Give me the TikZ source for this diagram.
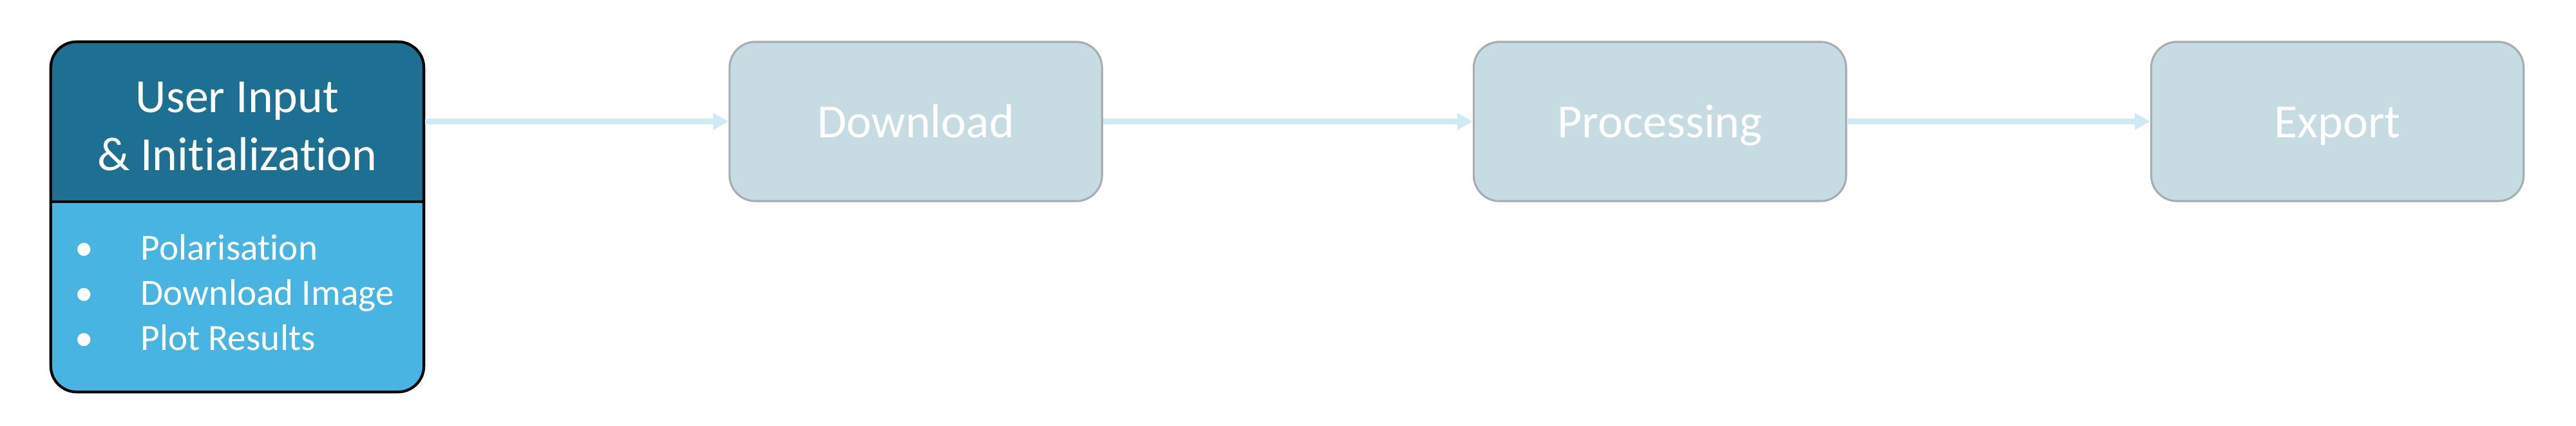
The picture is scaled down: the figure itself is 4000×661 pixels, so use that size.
\documentclass[tikz,border=0pt]{standalone}
\usepackage{fontspec}
\setmainfont{Carlito}[Ligatures=NoCommon]
\usetikzlibrary{arrows.meta}

\definecolor{inputdark}{HTML}{1D7092}
\definecolor{inputlight}{HTML}{47B4E1}
\definecolor{stepfill}{HTML}{C7DBE3}
\definecolor{stepline}{HTML}{A7AEB2}
\definecolor{flowblue}{HTML}{CFEAF5}

\tikzset{
  inputbox/.style={draw, line width=1.2pt, rounded corners=0.4cm, fill=inputlight,
    minimum width=5.79cm, minimum height=5.43cm,
    path picture={\fill[inputdark, sharp corners] (path picture bounding box.north west)
      rectangle ([yshift=-2.48cm]path picture bounding box.north east);}},
  stepbox/.style={draw=stepline, fill=stepfill, line width=0.9pt, rounded corners=0.4cm,
    minimum width=5.78cm, minimum height=2.47cm, text height=0.6cm, text depth=0.11cm,
    text=white, font=\fontsize{21}{25.6}\selectfont},
  titletext/.style={text=white, align=center, inner sep=0pt, font=\fontsize{21}{25.6}\selectfont},
  itemtext/.style={text=white, inner sep=0pt, font=\fontsize{16.3}{19.9}\selectfont},
  flow/.style={flowblue, line width=2.3pt, -{Triangle[length=0.24cm,width=0.25cm]}}
}

\begin{document}
\begin{tikzpicture}[x=0.01cm, y=-0.01cm]
  \useasboundingbox (0,0) rectangle (4000,661);

  % first step, with its options
  \node[inputbox] (input) at (368.5,336.5) {};
  \coordinate (split) at (79,313);
  \draw[line width=1.2pt] (input.west |- split) -- (input.east |- split);
  \node[titletext, anchor=base] (title) at (368.5,265) {User Input\\[0.9cm-\baselineskip]\& Initialization};
  \foreach \entry [count=\i] in {Polarisation, Download Image, Plot Results}{
    \node[itemtext, anchor=base] (dot\i) at (131,404+70*\i-70) {\textbullet};
    \node[itemtext, anchor=base west] (entry\i) at (218,404+70*\i-70) {\entry};
  }

  % the other steps
  \node[stepbox] (download) at (1422,188.5) {Download};
  \node[stepbox] (processing) at (2577.5,188.5) {Processing};
  \node[stepbox] (export) at (3629.5,188.5) {Export};

  \draw[flow] (input.east |- download.west) -- (download.west);
  \draw[flow] (download.east) -- (processing.west);
  \draw[flow] (processing.east) -- (export.west);
\end{tikzpicture}
\end{document}
